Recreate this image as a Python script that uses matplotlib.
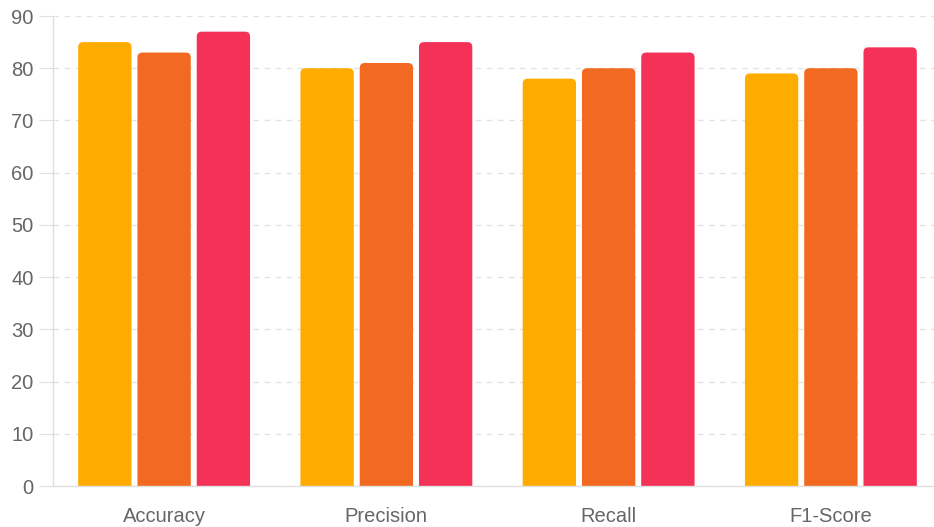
import matplotlib
matplotlib.use("Agg")
import matplotlib.pyplot as plt
from matplotlib.patches import FancyBboxPatch

plt.rcParams['font.family'] = ['Liberation Sans', 'DejaVu Sans']

categories = ["Accuracy", "Precision", "Recall", "F1-Score"]
model_a = [85, 80, 78, 79]
model_b = [83, 81, 80, 80]
model_c = [87, 85, 83, 84]
series = [model_a, model_b, model_c]
colors = ["#FFAC00", "#F26A21", "#F43157"]

fig = plt.figure(figsize=(9.34, 5.27), dpi=100)
# plot area runs a little past the right edge of the picture
ax = fig.add_axes([53 / 934, 41 / 527, 889 / 934, 470 / 527])

slot = 0.8 / 3
bar_w = slot * 0.9
# rounding: ~5px in x units, aspect to keep it round in y
px_x = 889 / 4
px_y = 470 / 90
r_x = 5 / px_x
aspect = (5 / px_y) / r_x

for i, vals in enumerate(series):
    for j, v in enumerate(vals):
        x0 = j - 0.4 + i * slot + (slot - bar_w) / 2
        p = FancyBboxPatch((x0, -3), bar_w, v + 3,
                           boxstyle=f"round,pad=0,rounding_size={r_x}",
                           mutation_aspect=aspect,
                           facecolor=colors[i], edgecolor="none")
        ax.add_patch(p)

ax.set_xlim(-0.5, 3.5)
ax.set_ylim(0, 90)
ax.set_yticks(range(0, 91, 10))
ax.set_xticks(range(len(categories)))
ax.set_xticklabels(categories)

ax.grid(axis="y", color="#e3e3e3", linestyle=(0, (4, 4)), linewidth=1)
ax.set_axisbelow(True)
for s in ["top", "right"]:
    ax.spines[s].set_visible(False)
for s in ["left", "bottom"]:
    ax.spines[s].set_color("#e0e0e0")
    ax.spines[s].set_linewidth(1)

ax.tick_params(axis="y", length=10, color="#e0e0e0", labelcolor="#666666",
               labelsize=14.5, pad=4)
ax.tick_params(axis="x", length=0, labelcolor="#666666", labelsize=14.5, pad=15)

fig.savefig("out.png", dpi=100)
